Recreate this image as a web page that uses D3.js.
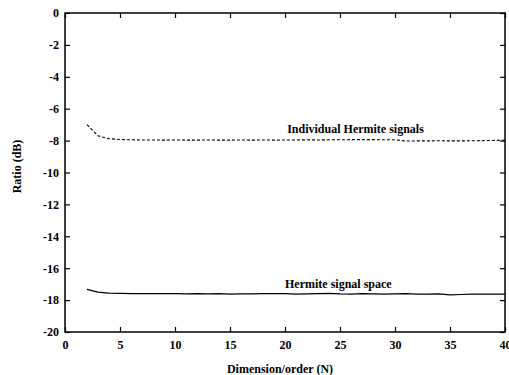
<!DOCTYPE html>
<html>
<head>
<meta charset="utf-8">
<script src="https://cdn.jsdelivr.net/npm/d3@7"></script>
<style>
  body { margin: 0; background: #fff; }
  text { font-family: "Liberation Serif", "DejaVu Serif", serif; font-weight: bold; fill: #000; }
</style>
</head>
<body>
<svg id="chart" width="509" height="375"></svg>
<script>
// data
var orders = d3.range(2, 41);
var individual = [-7.00, -7.70, -7.88, -7.93, -7.95, -7.96, -7.96, -7.97, -7.96, -7.97,
                  -7.97, -7.96, -7.97, -7.97, -7.96, -7.97, -7.96, -7.97, -7.96, -7.96,
                  -7.95, -7.96, -7.95, -7.95, -7.94, -7.94, -7.94, -7.95, -7.95, -8.03,
                  -8.02, -8.02, -8.01, -8.02, -8.02, -8.01, -8.00, -7.99, -7.97];
var space = [-17.33, -17.50, -17.56, -17.58, -17.59, -17.60, -17.59, -17.60, -17.60, -17.61,
             -17.60, -17.61, -17.60, -17.62, -17.61, -17.61, -17.60, -17.59, -17.60, -17.62,
             -17.61, -17.60, -17.58, -17.61, -17.62, -17.60, -17.61, -17.62, -17.61, -17.60,
             -17.62, -17.63, -17.61, -17.67, -17.65, -17.62, -17.62, -17.63, -17.62];
var xTicks = [0, 5, 10, 15, 20, 25, 30, 35, 40];
var yTicks = [0, -2, -4, -6, -8, -10, -12, -14, -16, -18, -20];

var margin = {top: 13, right: 4, bottom: 43, left: 65};
var width = 505 - margin.left;
var height = 332 - margin.top;

var svg = d3.select("#chart");
var g = svg.append("g")
    .attr("transform", "translate(" + margin.left + "," + margin.top + ")");

var x = d3.scaleLinear().domain([0, 40]).range([0, width]);
var y = d3.scaleLinear().domain([-20, 0]).range([height, 0]);

// ハイフンのマイナス
var fmt = function(d) { return String(d); };

// 内向きの目盛り
var tickLen = 5;
g.append("g")
    .attr("transform", "translate(0," + height + ")")
    .call(d3.axisBottom(x).tickValues(xTicks).tickSize(-tickLen).tickPadding(8).tickFormat(fmt))
    .call(function(a) { a.select(".domain").remove(); });
g.append("g")
    .call(d3.axisTop(x).tickValues(xTicks).tickSize(-tickLen).tickFormat(""))
    .call(function(a) { a.select(".domain").remove(); });
g.append("g")
    .call(d3.axisLeft(y).tickValues(yTicks).tickSize(-tickLen).tickPadding(6).tickFormat(fmt))
    .call(function(a) { a.select(".domain").remove(); });
g.append("g")
    .attr("transform", "translate(" + width + ",0)")
    .call(d3.axisRight(y).tickValues(yTicks).tickSize(-tickLen).tickFormat(""))
    .call(function(a) { a.select(".domain").remove(); });

g.selectAll(".tick line").attr("stroke", "#000").attr("stroke-width", 1.2);
g.selectAll(".tick text")
    .style("font-family", "'Liberation Serif', serif")
    .style("font-weight", "bold")
    .style("font-size", "12px");

// 枠
g.append("rect")
    .attr("width", width)
    .attr("height", height)
    .attr("fill", "none")
    .attr("stroke", "#000")
    .attr("stroke-width", 1.5);

var line = d3.line()
    .x(function(d) { return x(d[0]); })
    .y(function(d) { return y(d[1]); });

g.append("path")
    .datum(orders.map(function(n, i) { return [n, individual[i]]; }))
    .attr("d", line)
    .attr("fill", "none")
    .attr("stroke", "#000")
    .attr("stroke-width", 1.1)
    .attr("stroke-dasharray", "3,2");

g.append("path")
    .datum(orders.map(function(n, i) { return [n, space[i]]; }))
    .attr("d", line)
    .attr("fill", "none")
    .attr("stroke", "#000")
    .attr("stroke-width", 1.2);

// 注釈
g.append("text")
    .attr("x", x(20.2))
    .attr("y", y(-7.55))
    .style("font-size", "12px")
    .text("Individual Hermite signals");
g.append("text")
    .attr("x", x(20.0))
    .attr("y", y(-17.22))
    .style("font-size", "12px")
    .text("Hermite signal space");

// 軸ラベル
svg.append("text")
    .attr("x", margin.left + width / 2 - 5)
    .attr("y", 373)
    .attr("text-anchor", "middle")
    .style("font-size", "12px")
    .text("Dimension/order  (N)");
svg.append("text")
    .attr("transform", "translate(21," + (margin.top + height / 2 - 6) + ") rotate(-90)")
    .attr("text-anchor", "middle")
    .style("font-size", "12px")
    .text("Ratio (dB)");
</script>
</body>
</html>
